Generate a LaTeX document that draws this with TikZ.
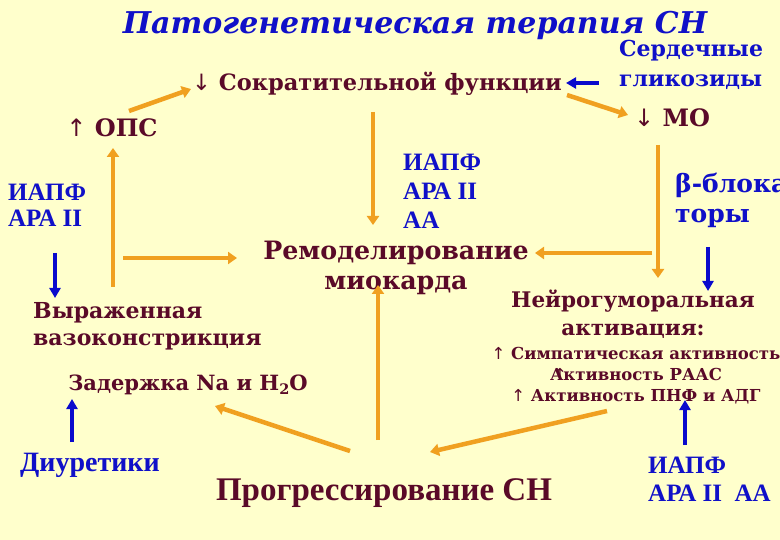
\documentclass[tikz,border=0pt]{standalone}
\usepackage{fontspec}
\setmainfont{DejaVu Serif}
\newfontfamily\timesf{Liberation Serif}
\newfontfamily\arrowf{DejaVu Sans}
\usetikzlibrary{arrows.meta}
\definecolor{bgyellow}{HTML}{FFFFCC}
\definecolor{maroon}{HTML}{5A0A28}
\definecolor{drugblue}{HTML}{1010C8}
\definecolor{arrorange}{HTML}{F0A020}
\definecolor{arrblue}{HTML}{0A0ACC}
\newcommand{\upar}{{\arrowf\mdseries ↑}}
\newcommand{\downar}{{\arrowf\mdseries ↓}}
\newcommand{\fsz}[2]{\fontsize{#1}{#2}\selectfont}
\tikzset{
  mtext/.style={text=maroon, inner sep=0pt, align=center},
  drug/.style={text=drugblue, inner sep=0pt, align=left},
  oarr/.style={draw=arrorange, line width=4.5pt, -{Triangle[width=12pt,length=9pt]}},
  barr/.style={draw=arrblue, line width=4pt, -{Triangle[width=11pt,length=10pt]}}
}
\begin{document}
\begin{tikzpicture}[x=1pt, y=-1pt]
\useasboundingbox (0,0) rectangle (780,540);
\fill[bgyellow] (0,0) rectangle (780,540);
\clip (0,0) rectangle (780,540);

\node[drug, font=\bfseries\itshape\fsz{30}{30}] (title) at (415,25) {Патогенетическая терапия СН};
\node[drug, anchor=west, font=\bfseries\fsz{22}{30}] (glik) at (619,65) {Сердечные\\гликозиды};
\node[mtext, font=\bfseries\fsz{22.5}{22.5}] (sokr) at (377,84) {\downar\ Сократительной функции};
\node[mtext, font=\bfseries\fsz{24}{24}] (mo) at (672,118) {\downar\ МО};
\node[mtext, font=\bfseries\fsz{24}{24}] (ops) at (112,128) {\upar\ ОПС};
\node[drug, anchor=west, font=\timesf\bfseries\fsz{25}{26}] (iapfl) at (8,205) {ИАПФ\\АРА II};
\node[drug, anchor=west, font=\timesf\bfseries\fsz{25}{29}] (iapfc) at (403,191) {ИАПФ\\АРА II\\АА};
\node[drug, anchor=west, font=\bfseries\fsz{25}{30}] (beta) at (675,200) {β-блока\\торы};
\node[mtext, font=\bfseries\fsz{25.3}{30}] (remod) at (396,268) {Ремоделирование\\миокарда};
\node[mtext, anchor=west, align=left, font=\bfseries\fsz{22}{27}] (vaso) at (33,326) {Выраженная\\вазоконстрикция};
\node[mtext, font=\bfseries\fsz{21.5}{28}] (neuro) at (633,314) {Нейрогуморальная\\активация:};
\node[mtext, font=\bfseries\fsz{16.5}{21}] (symp) at (636,376) {\upar\ Симпатическая активность\\\rlap{\kern3pt\upar}Активность РААС\\\upar\ Активность ПНФ и АДГ};
\node[mtext, font=\bfseries\fsz{21}{21}] (zader) at (188,385) {Задержка Na и H\raisebox{-4pt}{\fsz{14.5}{14.5}2}O};
\node[drug, font=\timesf\bfseries\fsz{28}{28}] (diur) at (90,465) {Диуретики};
\node[mtext, font=\timesf\bfseries\fsz{33}{33}] (progr) at (384,493) {Прогрессирование СН};
\node[drug, anchor=west, font=\timesf\bfseries\fsz{25}{28}] (iapfr) at (648,479) {ИАПФ\\АРА II\ \ АА};

\draw[oarr] ([shift={(17,-17)}]ops.center) -- ([shift={(-186,5)}]sokr.center);
\draw[oarr] ([shift={(190,11)}]sokr.center) -- ([shift={(-44,-3)}]mo.center);
\draw[oarr] ([shift={(-4,28)}]sokr.center) -- ([shift={(-23,-43)}]remod.center);
\draw[oarr] ([shift={(-14,27)}]mo.center) -- ([shift={(25,-36)}]neuro.center);
\draw[oarr] ([shift={(19,-61)}]neuro.center) -- ([shift={(139,-15)}]remod.center);
\draw[oarr] ([shift={(80,-39)}]vaso.west) -- ([shift={(1,20)}]ops.center);
\draw[oarr] ([shift={(90,-68)}]vaso.west) -- ([shift={(-159,-10)}]remod.center);
\draw[oarr] ([shift={(-34,-42)}]progr.center) -- ([shift={(27,21)}]zader.center);
\draw[oarr] ([shift={(-6,-53)}]progr.center) -- ([shift={(-18,17)}]remod.center);
\draw[oarr] ([shift={(-29,35)}]symp.center) -- ([shift={(46,-41)}]progr.center);

\draw[barr] ([shift={(-20,18)}]glik.west) -- ([shift={(189,-1)}]sokr.center);
\draw[barr] ([shift={(33,47)}]beta.west) -- ([shift={(75,-23)}]neuro.center);
\draw[barr] ([shift={(47,48)}]iapfl.west) -- ([shift={(22,-28)}]vaso.west);
\draw[barr] ([shift={(-18,-23)}]diur.center) -- ([shift={(-116,14)}]zader.center);
\draw[barr] ([shift={(37,-34)}]iapfr.west) -- ([shift={(49,24)}]symp.center);
\end{tikzpicture}
\end{document}
